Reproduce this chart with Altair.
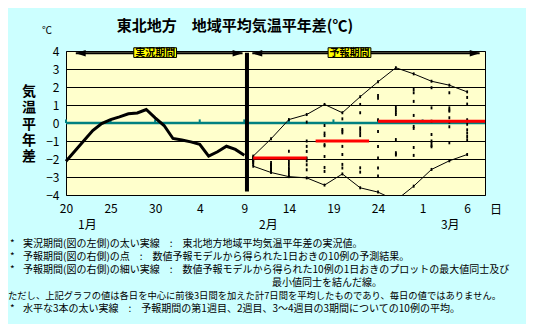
import altair as alt
import pandas as pd

# ---------------- data (day index: 0 = Jan 20) ----------------
obs_vals = [-2.12, -1.55, -0.99, -0.42, -0.03, 0.19, 0.34, 0.51, 0.56, 0.75, 0.29,
            -0.14, -0.86, -0.95, -1.05, -1.19, -1.84, -1.6, -1.29, -1.47, -1.79]
obs_days = list(range(len(obs_vals)))

fc_days = [21, 23, 25, 27, 29, 31, 33, 35, 37, 39, 41, 43, 45]
fc_members = [
    [-1.84, -1.9, -1.95, -2.0, -2.05, -2.1, -2.15, -2.2, -2.3, -2.4],
    [-0.88, -2.2, -2.3, -2.35, -2.4, -2.5, -2.55, -2.6, -2.7, -2.75],
    [0.19, -1.57, -2.05, -2.2, -2.35, -2.5, -2.6, -2.75, -2.9, -2.98],
    [0.47, 0.05, -1.0, -1.3, -1.58, -1.95, -2.1, -2.32, -2.6, -3.05],
    [1.03, -0.14, -0.56, -0.7, -1.2, -1.27, -1.86, -2.47, -2.69, -3.45],
    [0.57, 0.23, -0.36, -0.45, -0.55, -1.3, -1.75, -2.3, -2.5, -2.83],
    [1.46, 1.03, 0.57, -0.27, -0.4, -0.55, -0.7, -2.49, -2.73, -3.6],
    [2.29, 1.53, 1.38, 0.18, -0.47, -1.3, -1.95, -2.5, -2.95, -3.84],
    [3.07, 0.86, 0.72, 0.6, 0.47, -0.92, -1.65, -1.72, -1.78, -4.3],
    [2.73, 1.86, 1.68, 1.2, 0.42, -0.19, -0.3, -1.36, -1.8, -3.51],
    [2.32, 1.96, 0.84, 0.1, -0.64, -1.0, -1.1, -1.25, -1.32, -2.58],
    [2.1, 1.68, 0.84, 0.72, 0.66, 0.29, 0.05, -0.21, -1.1, -2.1],
    [1.73, 1.42, 1.05, 0.18, -0.07, -0.38, -0.56, -0.75, -0.93, -1.75],
]

week_start = [21, 28, 35]
week_end = [27, 34, 48]
week_mean = [-1.95, -1.0, 0.1]

xtick_days = [0, 5, 10, 15, 20, 25, 30, 35, 40, 45]
xtick_labels = ["20", "25", "30", "4", "9", "14", "19", "24", "1", "6"]
month_days = [2.4, 22.7, 43.1]
month_labels = ["1月", "2月", "3月"]
boundary_day = 20.3
period_labels = ["実況期間", "予報期間"]

title_text = "東北地方　地域平均気温平年差(℃)"
ylabel_text = "気温平年差"
notes = [
    ("*", "実況期間(図の左側)の太い実線　:　東北地方地域平均気温平年差の実況値。"),
    ("*", "予報期間(図の右側)の点　:　数値予報モデルから得られた1日おきの10例の予測結果。"),
    ("*", "予報期間(図の右側)の細い実線　:　数値予報モデルから得られた10例の1日おきのプロットの最大値同士及び"),
    ("", "最小値同士を結んだ線。"),
    ("", "ただし、上記グラフの値は各日を中心に前後3日間を加えた計7日間を平均したものであり、毎日の値ではありません。"),
    ("*", "水平な3本の太い実線　:　予報期間の第1週目、2週目、3～4週目の3期間についての10例の平均。"),
]

# ---------------- frames ----------------
obs_df = pd.DataFrame({"day": obs_days, "val": obs_vals})
fc_df = pd.DataFrame([(d, v) for d, mem in zip(fc_days, fc_members) for v in mem],
                     columns=["day", "val"])
env_df = (fc_df.groupby("day")["val"].agg(["max", "min"]).reset_index()
          .melt(id_vars="day", var_name="kind", value_name="val"))
week_df = pd.DataFrame({"day": week_start, "day2": week_end, "val": week_mean})

W, H = 419, 144
FONT = "Noto Sans CJK JP"

xs = alt.Scale(domain=[0, 47], nice=False, zero=False)
ys = alt.Scale(domain=[-4, 4], nice=False, zero=False)

label_expr = " : ".join(f"datum.value == {d} ? '{l}'" for d, l in zip(xtick_days, xtick_labels)) + " : ''"
xaxis = alt.Axis(values=xtick_days, labelExpr=label_expr, grid=False, ticks=False, domain=False,
                 labelPadding=8, labelFontSize=12, labelFont=FONT, labelColor="black",
                 labelFlush=False, labelOverlap=False)
yaxis = alt.Axis(values=list(range(-4, 5)), grid=True, gridColor="black", gridOpacity=1, gridWidth=1,
                 ticks=False, domain=False, labelPadding=7, labelFontSize=12, labelFont=FONT,
                 labelColor="black", labelFlush=False, labelOverlap=False, format="d")


def X(f="day"):
    return alt.X(f"{f}:Q", scale=xs, axis=xaxis, title=None)


def Y(f="val"):
    return alt.Y(f"{f}:Q", scale=ys, axis=yaxis, title=None)


layers = []

# zero line (teal) with small ticks
layers.append(alt.Chart(pd.DataFrame({"val": [0]})).mark_rule(color="#008080", strokeWidth=2.5).encode(y=Y()))
tick_df = pd.DataFrame({"day": xtick_days})
tick_df["val"] = 0.0
tick_df["val2"] = 0.2
layers.append(alt.Chart(tick_df).mark_rule(color="#008080", strokeWidth=2).encode(
    x=X(), y=Y(), y2=alt.Y2("val2:Q")))

# envelope lines (max / min)
layers.append(alt.Chart(env_df).mark_line(color="black", strokeWidth=1, clip=True).encode(
    x=X(), y=Y(), detail="kind:N"))

# member dots
layers.append(alt.Chart(fc_df).mark_point(shape="M-0.6,-1H0.6V1H-0.6Z", filled=True, size=9,
                                          color="black", opacity=1, clip=True).encode(x=X(), y=Y()))

# weekly means
layers.append(alt.Chart(week_df).mark_rule(color="#FF0000", strokeWidth=3, clip=True).encode(
    x=X(), x2=alt.X2("day2:Q"), y=Y()))

# observed line
layers.append(alt.Chart(obs_df).mark_line(color="black", strokeWidth=3).encode(x=X(), y=Y()))

# boundary line
bnd = pd.DataFrame({"day": [boundary_day], "val": [3.9], "val2": [-3.8]})
layers.append(alt.Chart(bnd).mark_rule(color="black", strokeWidth=4).encode(
    x=X(), y=Y(), y2=alt.Y2("val2:Q")))

# period arrows
ay = 3.87
arr = pd.DataFrame({"day": [1.1, boundary_day + 0.6], "day2": [boundary_day - 0.5, 46.4], "val": [ay, ay]})
layers.append(alt.Chart(arr).mark_rule(color="black", strokeWidth=2).encode(
    x=X(), x2=alt.X2("day2:Q"), y=Y()))
lh = pd.DataFrame({"day": [1.1 + 0.55, boundary_day + 0.6 + 0.55], "val": [ay, ay]})
rh = pd.DataFrame({"day": [boundary_day - 0.5 - 0.55, 46.4 - 0.55], "val": [ay, ay]})
layers.append(alt.Chart(lh).mark_point(shape="M-1,0L1,-0.65L1,0.65Z", filled=True, size=100,
                                       color="black", opacity=1).encode(x=X(), y=Y()))
layers.append(alt.Chart(rh).mark_point(shape="M1,0L-1,-0.65L-1,0.65Z", filled=True, size=100,
                                       color="black", opacity=1).encode(x=X(), y=Y()))

# period label boxes
box = pd.DataFrame({"label": period_labels, "c": [10.0, 31.8]})
box["day"] = box["c"] - 2.4
box["day2"] = box["c"] + 2.4
box["val"] = 4.18
box["val2"] = 3.64
box["mid"] = 3.91
layers.append(alt.Chart(box).mark_rect(fill="#FFFF00", stroke="black", strokeWidth=1).encode(
    x=X(), x2=alt.X2("day2:Q"), y=Y(), y2=alt.Y2("val2:Q")))
layers.append(alt.Chart(box).mark_text(font=FONT, fontSize=10, fontWeight="bold", color="black",
                                       baseline="middle").encode(
    x=alt.X("c:Q", scale=xs, axis=xaxis, title=None), y=alt.Y("mid:Q", scale=ys, axis=yaxis, title=None),
    text="label:N"))

# month labels
mdf = pd.DataFrame({"day": month_days, "label": month_labels})
layers.append(alt.Chart(mdf).mark_text(font=FONT, fontSize=12, color="black", baseline="middle").encode(
    x=X(), y=alt.value(H + 30), text="label:N"))

one = pd.DataFrame({"a": [0]})


def txt(t, x, y, **kw):
    opts = dict(font=FONT, color="black", baseline="middle")
    opts.update(kw)
    return alt.Chart(one).mark_text(text=t, **opts).encode(x=alt.value(x), y=alt.value(y))


layers.append(txt("日", 430, H + 15, fontSize=12))
layers.append(txt(title_text, 169, -25, fontSize=15, fontWeight="bold"))
layers.append(txt("℃", -19, -20, fontSize=10))
for k, ch in enumerate(ylabel_text):
    layers.append(txt(ch, -37, 41 + k * 16.3, fontSize=14, fontWeight="bold"))

note_sizes = [10, 10, 10, 10, 9.3, 10]
for i, (b, t) in enumerate(notes):
    yy = 193 + i * 12.9
    fs = note_sizes[i]
    if b:
        layers.append(txt(b, -56, yy, fontSize=fs, align="left"))
        layers.append(txt(t, -43, yy, fontSize=fs, align="left"))
    elif i == 3:
        layers.append(txt(t, 206, yy, fontSize=fs, align="left"))
    else:
        layers.append(txt(t, -58, yy, fontSize=fs, align="left"))

chart = alt.layer(*layers).properties(
    width=W, height=H,
    autosize=alt.AutoSizeParams(type="none"),
    padding={"left": 58, "top": 43, "right": 41, "bottom": 129},
).configure(background="#CCFFFF").configure_view(fill="#FFFFCC", stroke="black", strokeWidth=1)

chart.save("out.html", embed_options={"renderer": "svg", "actions": False})
